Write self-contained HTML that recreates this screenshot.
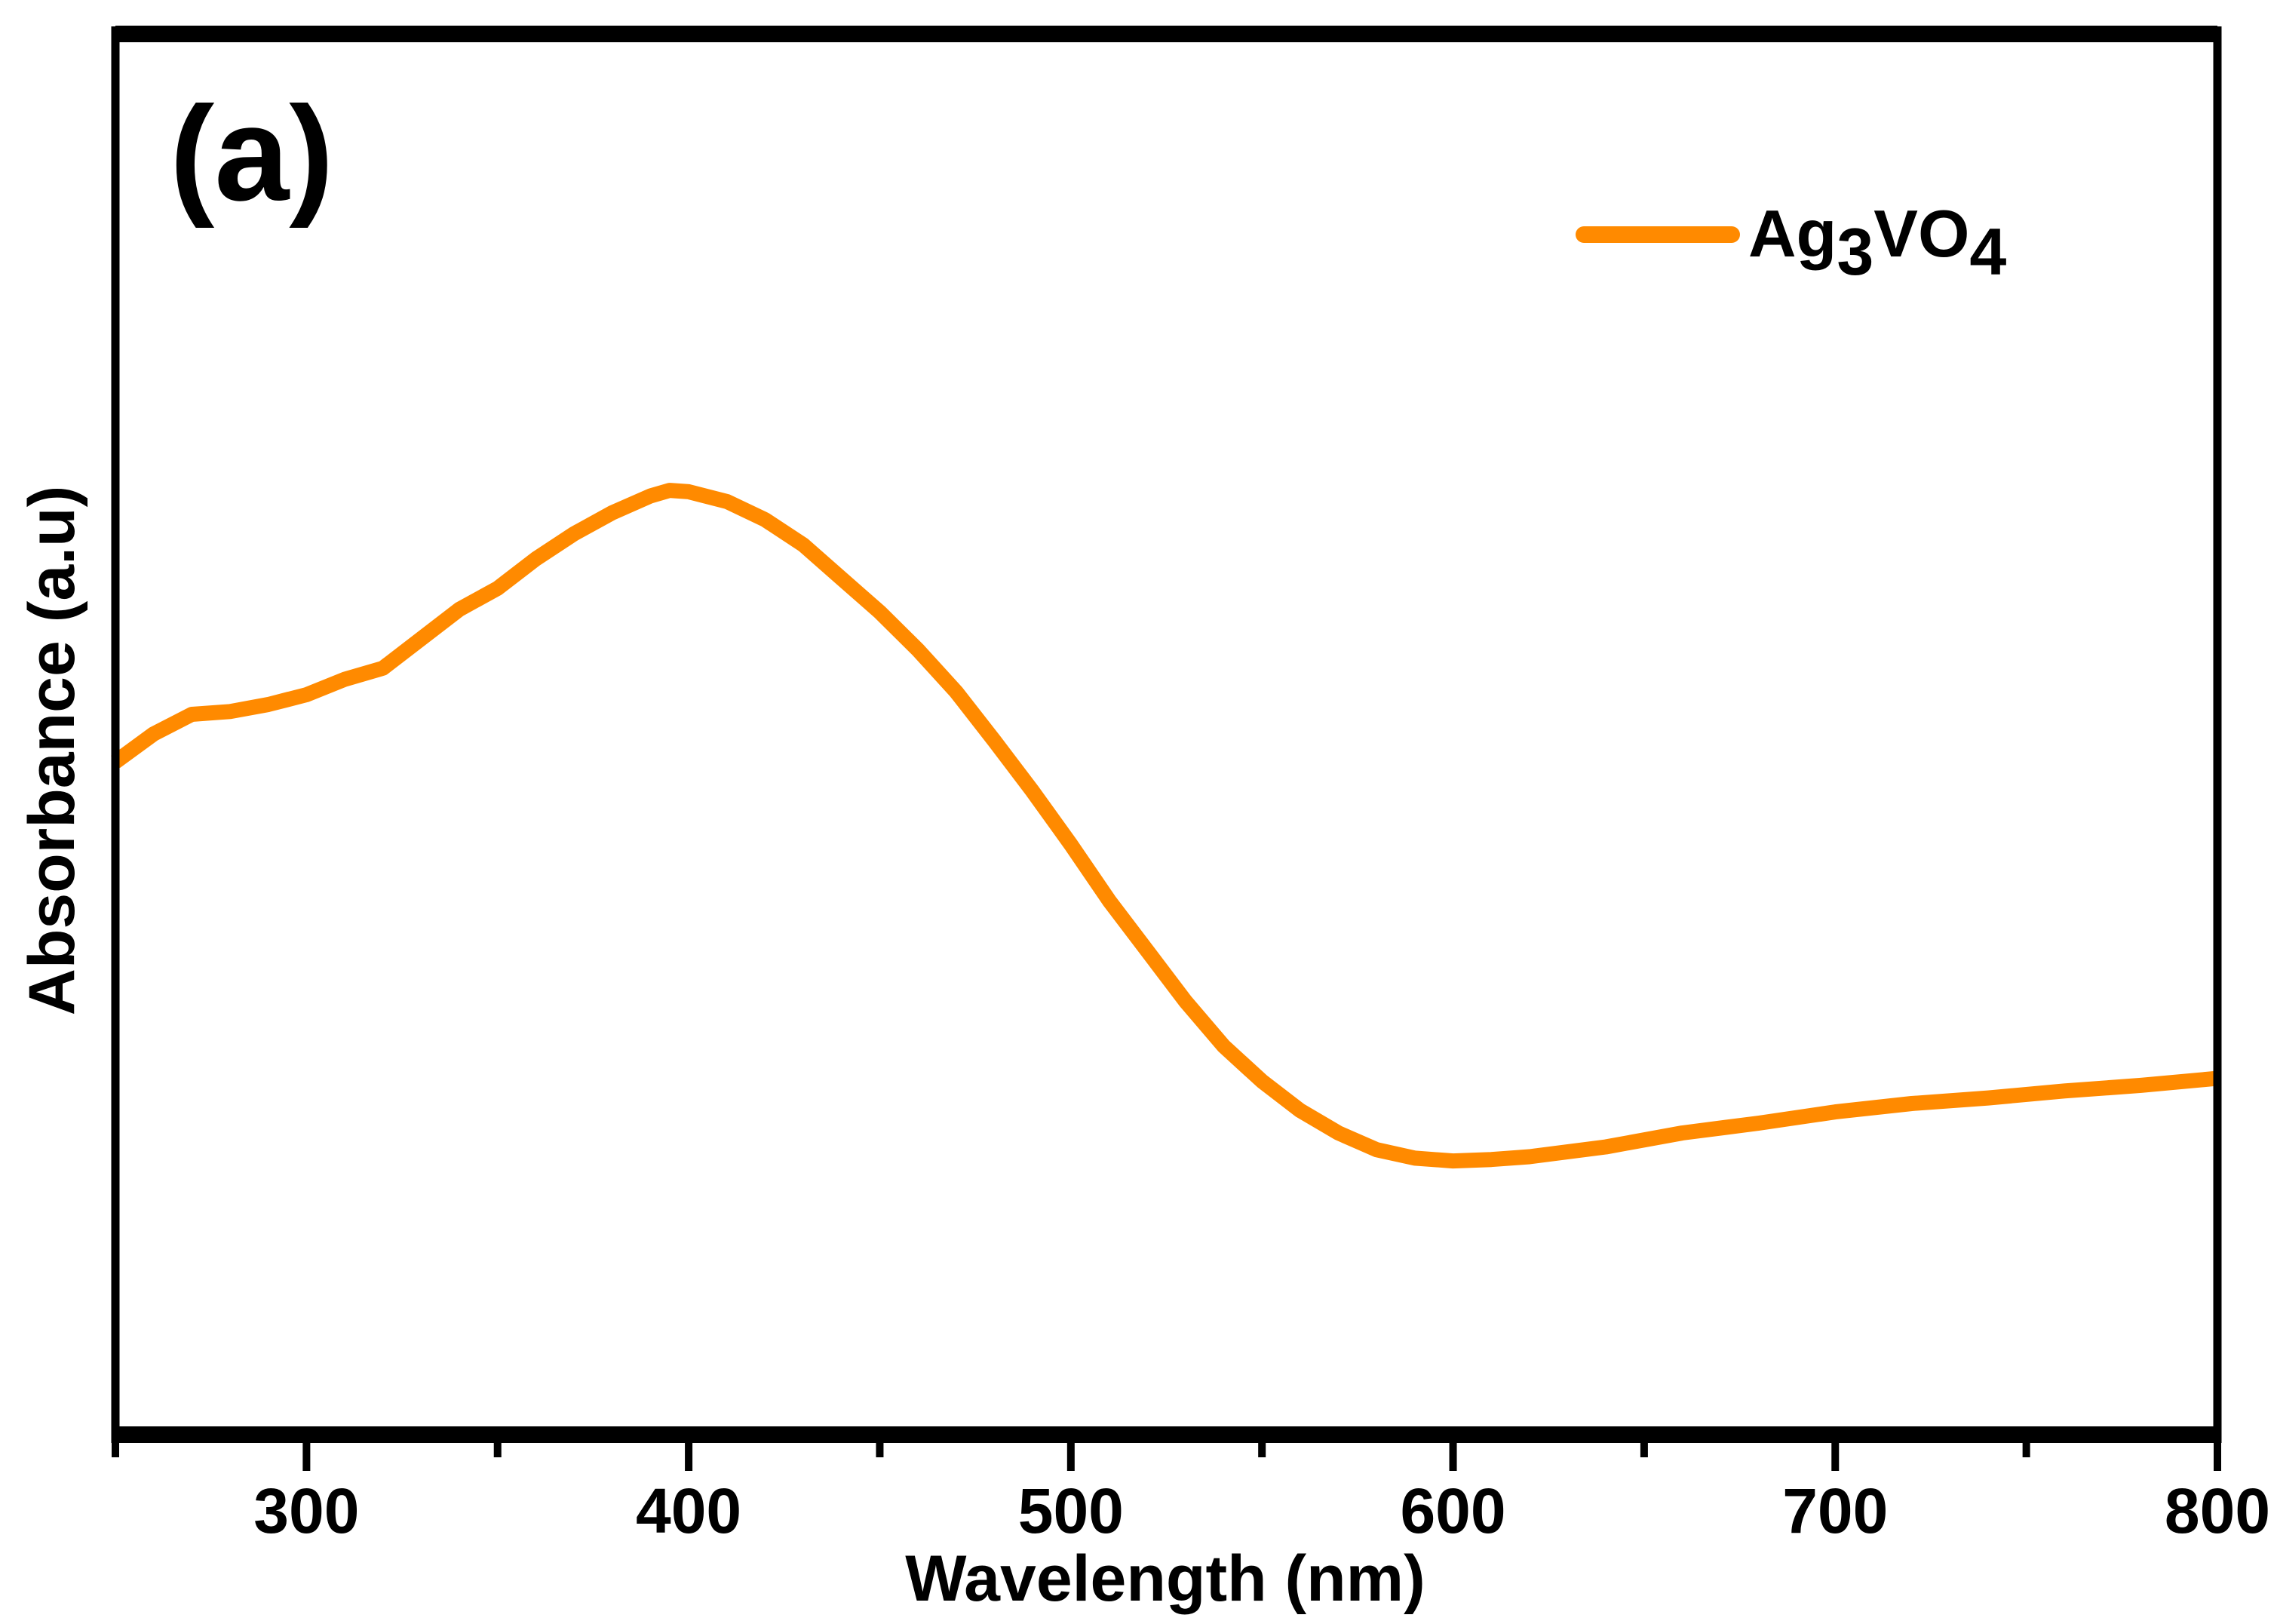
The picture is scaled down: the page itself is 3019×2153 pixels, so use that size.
<!DOCTYPE html>
<html><head><meta charset="utf-8"><style>
html,body{margin:0;padding:0;background:#fff;}
svg{display:block;font-family:"Liberation Sans",Arial,sans-serif;font-weight:bold;}
</style></head><body>
<svg id="chart" width="3019" height="2153" viewBox="0 0 3019 2153" xmlns="http://www.w3.org/2000/svg">
<g id="plot"></g>
<g id="frame">
  <line x1="153" y1="45" x2="2940" y2="45" stroke="#000" stroke-width="22"/>
  <line x1="153" y1="1902" x2="2940" y2="1902" stroke="#000" stroke-width="22"/>
  <line x1="153" y1="35" x2="153" y2="1913" stroke="#000" stroke-width="11"/>
  <line x1="2940" y1="35" x2="2940" y2="1913" stroke="#000" stroke-width="11"/>
</g>
<g id="xticks"></g>
<text x="1545" y="2122" font-size="86" text-anchor="middle">Wavelength (nm)</text>
<text transform="translate(98,995) rotate(-90)" font-size="86" text-anchor="middle">Absorbance (a.u)</text>
<text x="225" y="265" font-size="178">(a)</text>
<g>
  <line x1="2100" y1="311" x2="2296" y2="311" stroke="#FF8A00" stroke-width="22" stroke-linecap="round"/>
  <text x="2318" y="340" font-size="88">Ag<tspan font-size="88" dy="24">3</tspan><tspan dy="-24">VO</tspan><tspan dy="24">4</tspan></text>
</g>
</svg>
<script>
const wavelengths=[250,260,270,280,290,300,310,320,330,340,350,360,370,380,390,395,400,410,420,430,440,450,460,470,480,490,500,510,520,530,540,550,560,570,580,590,600,610,620,640,660,680,700,720,740,760,780,800];
const absorbance=[0.480,0.500,0.514,0.516,0.521,0.528,0.539,0.547,0.568,0.589,0.604,0.625,0.643,0.658,0.670,0.674,0.673,0.666,0.653,0.635,0.611,0.587,0.560,0.530,0.495,0.459,0.421,0.381,0.345,0.309,0.277,0.252,0.231,0.215,0.203,0.197,0.195,0.196,0.198,0.205,0.215,0.222,0.230,0.236,0.240,0.245,0.249,0.254];
const majorTicks=[300,400,500,600,700,800];
const minorTicks=[250,350,450,550,650,750];

const X0=153,X1=2940,Y0=1901,Y1=45;
function xs(w){return X0+(w-250)/(800-250)*(X1-X0);}
function ys(v){return Y0-v*(Y0-Y1);}
const NS="http://www.w3.org/2000/svg";
const plot=document.getElementById('plot');
let d='';
wavelengths.forEach((w,i)=>{d+=(i?'L':'M')+xs(w).toFixed(1)+','+ys(absorbance[i]).toFixed(1);});
const p=document.createElementNS(NS,'path');
p.setAttribute('d',d);
p.setAttribute('fill','none');
p.setAttribute('stroke','#FF8A00');
p.setAttribute('stroke-width','20');
p.setAttribute('stroke-linejoin','round');


plot.appendChild(p);

const tg=document.getElementById('xticks');
majorTicks.forEach(t=>{
  const l=document.createElementNS(NS,'line');
  l.setAttribute('x1',xs(t));l.setAttribute('x2',xs(t));
  l.setAttribute('y1',1905);l.setAttribute('y2',1950);
  l.setAttribute('stroke','#000');l.setAttribute('stroke-width','10');
  
  
  tg.appendChild(l);
  const tx=document.createElementNS(NS,'text');
  tx.setAttribute('x',xs(t));tx.setAttribute('y',2032);
  tx.setAttribute('font-size','84');tx.setAttribute('text-anchor','middle');
  tx.textContent=t;
  
  
  tg.appendChild(tx);
});
minorTicks.forEach(t=>{
  const l=document.createElementNS(NS,'line');
  l.setAttribute('x1',xs(t));l.setAttribute('x2',xs(t));
  l.setAttribute('y1',1905);l.setAttribute('y2',1932);
  l.setAttribute('stroke','#000');l.setAttribute('stroke-width','10');
  
  
  tg.appendChild(l);
});
</script>
</body></html>
